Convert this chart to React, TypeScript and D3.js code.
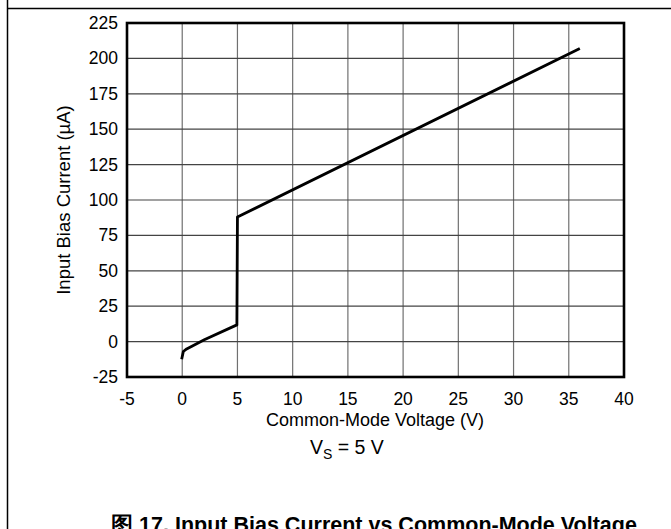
import React from "react";
import * as d3 from "d3";

const voltage = [-0.05, 0.1, 0.4, 2, 4.95, 5, 36];
const current = [-12.5, -7, -5.2, 1.3, 11.8, 88, 207];
const xTicks = [-5, 0, 5, 10, 15, 20, 25, 30, 35, 40];
const yTicks = [-25, 0, 25, 50, 75, 100, 125, 150, 175, 200, 225];

const W = 671;
const H = 529;
const FONT = "Liberation Sans, Arial, sans-serif";

export default function App() {
  const x = d3.scaleLinear().domain([-5, 40]).range([127, 624]);
  const y = d3.scaleLinear().domain([-25, 225]).range([377, 23]);
  const pts: [number, number][] = voltage.map((v, i) => [v, current[i]]);
  const line = d3
    .line<[number, number]>()
    .x((d) => x(d[0]))
    .y((d) => y(d[1]));

  return (
    <svg
      width={W}
      height={H}
      style={{ position: "absolute", left: 0, top: 0, background: "#fff" }}
      fontFamily={FONT}
    >
      <rect x={0} y={0} width={W} height={H} fill="#fff" />
      {/* frame */}
      <line x1={8} y1={8.5} x2={W} y2={8.5} stroke="#000" strokeWidth={1.5} />
      <line x1={7.5} y1={0} x2={7.5} y2={H} stroke="#000" strokeWidth={1.5} />

      {/* grid */}
      {xTicks.slice(1, -1).map((t) => (
        <line key={"gx" + t} x1={x(t)} x2={x(t)} y1={y(225)} y2={y(-25)} stroke="#707070" strokeWidth={1.2} />
      ))}
      {yTicks.slice(1, -1).map((t) => (
        <line key={"gy" + t} x1={x(-5)} x2={x(40)} y1={y(t)} y2={y(t)} stroke="#444" strokeWidth={1.2} />
      ))}
      <rect
        x={x(-5)}
        y={y(225)}
        width={x(40) - x(-5)}
        height={y(-25) - y(225)}
        fill="none"
        stroke="#000"
        strokeWidth={2.6}
      />

      {/* curve */}
      <path d={line(pts) || ""} fill="none" stroke="#000" strokeWidth={2.8} strokeLinejoin="round" />

      {/* tick labels */}
      {yTicks.map((t) => (
        <text key={"ty" + t} x={118} y={y(t) + 6} textAnchor="end" fontSize={17.5} fill="#000">
          {t}
        </text>
      ))}
      {xTicks.map((t) => (
        <text key={"tx" + t} x={x(t)} y={405} textAnchor="middle" fontSize={17.5} fill="#000">
          {t}
        </text>
      ))}

      {/* axis titles */}
      <text x={375} y={426} textAnchor="middle" fontSize={18} fill="#000">
        Common-Mode Voltage (V)
      </text>
      <text
        transform={`translate(70,200) rotate(-90)`}
        textAnchor="middle"
        fontSize={18.5}
        fill="#000"
      >
        Input Bias Current (µA)
      </text>

      {/* condition */}
      <text x={310} y={454} fontSize={19.5} fill="#000">
        V
        <tspan fontSize={14} dy={5}>S</tspan>
        <tspan dy={-5}> = 5 V</tspan>
      </text>

      {/* caption */}
      <text x={374} y={532} textAnchor="middle" fontSize={21.5} fontWeight="bold" fill="#000">
        图 17. Input Bias Current vs Common-Mode Voltage
      </text>
    </svg>
  );
}
